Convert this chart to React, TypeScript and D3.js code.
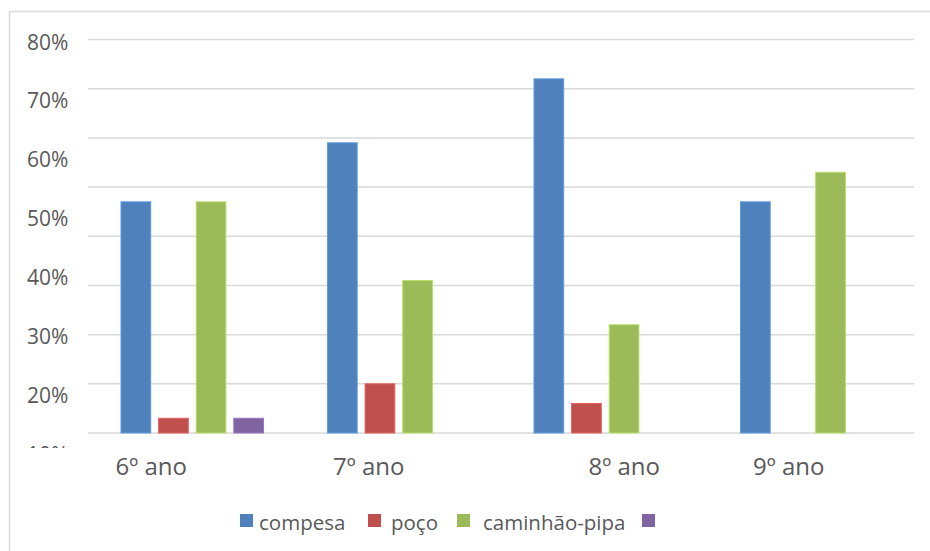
import React from "react";
import * as d3 from "d3";

const categories = ["6º ano", "7º ano", "8º ano", "9º ano"];
const seriesNames = ["compesa", "poço", "caminhão-pipa", ""];
const compesa = [47, 59, 72, 47];
const poco = [3, 10, 6, 0];
const caminhao = [47, 31, 22, 53];
const outro = [3, 0, 0, 0];
const seriesValues = [compesa, poco, caminhao, outro];
const colors = ["#4F81BD", "#C0504D", "#9BBB59", "#8064A2"];
const gridTicks = [0, 10, 20, 30, 40, 50, 60, 70, 80];
const tickLabels = ["80%", "70%", "60%", "50%", "40%", "30%", "20%", "10%"];

// layout tweaks (not data)
const labelShift = [-40, -29, 20, -22];
const legendX = [240, 368, 457, 642];
const legendTextGap = [19, 23, 26, 19];

const W = 930;
const H = 551;
const plotLeft = 88;
const plotRight = 914;
const plotTop = 39.5;
const plotBottom = 433;

export default function App() {
  const x = d3.scaleBand<string>().domain(categories).range([plotLeft, plotRight]);
  const inner = d3
    .scaleBand<string>()
    .domain(seriesNames.map((_, i) => String(i)))
    .range([33, 175.5])
    .paddingInner(0.21)
    .paddingOuter(0);
  const y = d3.scaleLinear().domain([0, 80]).range([plotBottom, plotTop]);
  const labelY = d3.scaleLinear().domain([0, 7]).range([42, 454]);
  const textColor = "#595959";
  const font = "'Open Sans', 'Noto Sans', sans-serif";

  return (
    <svg
      width={W}
      height={H}
      style={{ position: "absolute", left: 0, top: 0, background: "#fff" }}
    >
      <defs>
        <clipPath id="ylab">
          <rect x={0} y={0} width={90} height={448} />
        </clipPath>
      </defs>
      <rect x={0} y={0} width={W} height={H} fill="#fff" />
      <rect
        x={9.5}
        y={11.5}
        width={W + 20}
        height={H + 20}
        fill="none"
        stroke="#D9D9D9"
        strokeWidth={1.5}
      />
      {gridTicks.map((t) => (
        <line
          key={t}
          x1={plotLeft}
          x2={plotRight}
          y1={y(t)}
          y2={y(t)}
          stroke="#D9D9D9"
          strokeWidth={1.5}
        />
      ))}
      <g clipPath="url(#ylab)">
        {tickLabels.map((lab, i) => (
          <text
            key={lab}
            x={27}
            y={labelY(i)}
            dy="0.36em"
            fontFamily={font}
            fontSize={21}
            fill={textColor}
          >
            {lab}
          </text>
        ))}
      </g>
      {categories.map((c, ci) =>
        seriesValues.map((vals, si) => {
          const v = vals[ci];
          if (!v) return null;
          const fill = colors[si];
          return (
            <rect
              key={c + si}
              x={(x(c) as number) + (inner(String(si)) as number)}
              y={y(v)}
              width={inner.bandwidth()}
              height={y(0) - y(v)}
              fill={fill}
              stroke={d3.color(fill)!.brighter(0.5).formatHex()}
              strokeWidth={1}
            />
          );
        })
      )}
      {categories.map((c, ci) => (
        <text
          key={c}
          x={(x(c) as number) + x.bandwidth() / 2 + labelShift[ci]}
          y={475}
          textAnchor="middle"
          fontFamily={font}
          fontSize={24}
          fill={textColor}
        >
          {c}
        </text>
      ))}
      {seriesNames.map((s, i) => (
        <g key={i}>
          <rect x={legendX[i]} y={514} width={13} height={13} fill={colors[i]} />
          <text
            x={legendX[i] + legendTextGap[i]}
            y={530}
            fontFamily={font}
            fontSize={20.5}
            fill={textColor}
          >
            {s}
          </text>
        </g>
      ))}
    </svg>
  );
}
